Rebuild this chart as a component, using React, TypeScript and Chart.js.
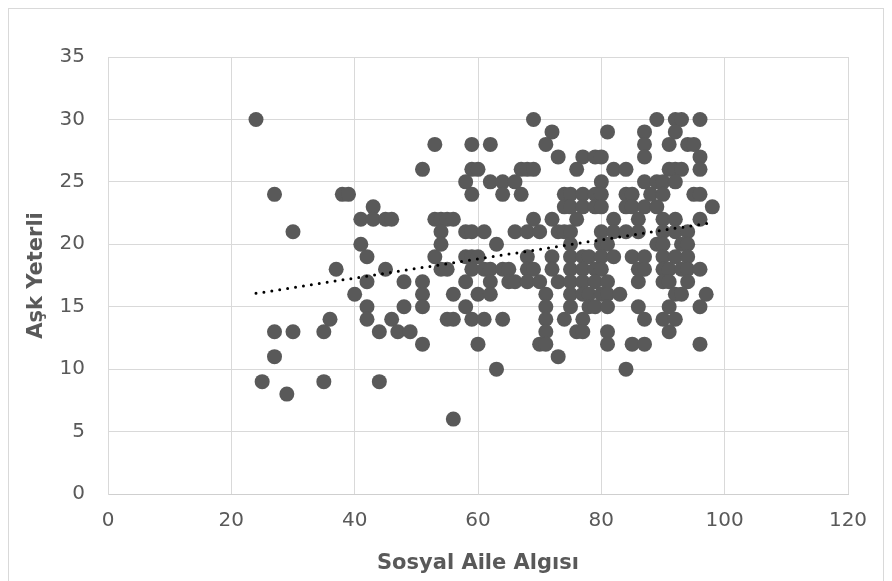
import { useEffect, useRef } from "react";
import { Chart, registerables } from "chart.js";

Chart.register(...registerables);

// x = Sosyal Aile Algısı, y = Aşk Yeterli (grouped by y level)
const sosyalAile: number[] = [
  24, 69, 89, 92, 93, 96,
  72, 81, 87, 92,
  53, 59, 62, 71, 87, 91, 94, 95,
  73, 77, 79, 80, 87, 96,
  51, 59, 60, 67, 68, 69, 76, 82, 84, 91, 92, 93, 96,
  58, 62, 64, 66, 80, 87, 89, 90, 92,
  27, 38, 39, 59, 64, 67, 74, 75, 77, 79, 80, 84, 85, 88, 90, 95, 96,
  43, 74, 75, 77, 79, 80, 84, 85, 87, 89, 98,
  41, 43, 45, 46, 53, 54, 55, 56, 69, 72, 76, 82, 86, 90, 92, 96,
  30, 54, 58, 59, 61, 66, 68, 70, 73, 74, 75, 80, 82, 84, 86, 90, 92, 94,
  41, 54, 63, 75, 80, 81, 89, 90, 93, 94,
  42, 53, 58, 59, 60, 68, 72, 75, 77, 78, 80, 82, 85, 87, 90, 92, 94,
  37, 45, 54, 55, 59, 61, 62, 64, 65, 68, 69, 72, 75, 77, 79, 80, 86, 87, 90, 91, 93, 94, 96,
  42, 48, 51, 58, 62, 65, 66, 68, 70, 73, 75, 77, 79, 81, 86, 90, 91, 94,
  40, 51, 56, 60, 62, 71, 75, 77, 78, 80, 81, 83, 92, 93, 97,
  42, 48, 51, 58, 71, 75, 78, 79, 81, 86, 91, 96,
  36, 42, 46, 55, 56, 59, 61, 64, 71, 74, 77, 87, 90, 92,
  27, 30, 35, 44, 47, 49, 71, 76, 77, 81, 91,
  51, 60, 70, 71, 81, 85, 87, 96,
  27, 73,
  63, 84,
  25, 35, 44,
  29,
  56,
];

const askYeterli: number[] = [
  30, 30, 30, 30, 30, 30,
  29, 29, 29, 29,
  28, 28, 28, 28, 28, 28, 28, 28,
  27, 27, 27, 27, 27, 27,
  26, 26, 26, 26, 26, 26, 26, 26, 26, 26, 26, 26, 26,
  25, 25, 25, 25, 25, 25, 25, 25, 25,
  24, 24, 24, 24, 24, 24, 24, 24, 24, 24, 24, 24, 24, 24, 24, 24, 24,
  23, 23, 23, 23, 23, 23, 23, 23, 23, 23, 23,
  22, 22, 22, 22, 22, 22, 22, 22, 22, 22, 22, 22, 22, 22, 22, 22,
  21, 21, 21, 21, 21, 21, 21, 21, 21, 21, 21, 21, 21, 21, 21, 21, 21, 21,
  20, 20, 20, 20, 20, 20, 20, 20, 20, 20,
  19, 19, 19, 19, 19, 19, 19, 19, 19, 19, 19, 19, 19, 19, 19, 19, 19,
  18, 18, 18, 18, 18, 18, 18, 18, 18, 18, 18, 18, 18, 18, 18, 18, 18, 18, 18, 18, 18, 18, 18,
  17, 17, 17, 17, 17, 17, 17, 17, 17, 17, 17, 17, 17, 17, 17, 17, 17, 17,
  16, 16, 16, 16, 16, 16, 16, 16, 16, 16, 16, 16, 16, 16, 16,
  15, 15, 15, 15, 15, 15, 15, 15, 15, 15, 15, 15,
  14, 14, 14, 14, 14, 14, 14, 14, 14, 14, 14, 14, 14, 14,
  13, 13, 13, 13, 13, 13, 13, 13, 13, 13, 13,
  12, 12, 12, 12, 12, 12, 12, 12,
  11, 11,
  10, 10,
  9, 9, 9,
  8,
  6,
];

// Linear trendline end points (dotted)
const trendX: number[] = [24, 97.5];
const trendY: number[] = [16.07, 21.7];

const X_MIN = 0, X_MAX = 120, X_STEP = 20;
const Y_MIN = 0, Y_MAX = 35, Y_STEP = 5;

const xTitle = "Sosyal Aile Algısı";
const yTitle = "Aşk Yeterli";

const TEXT = "#595959";
const GRID = "#d9d9d9";

export default function App() {
  const ref = useRef<HTMLCanvasElement>(null);

  useEffect(() => {
    if (!ref.current) return;
    const points = sosyalAile.map((x, i) => ({ x, y: askYeterli[i] }));
    const trend = trendX.map((x, i) => ({ x, y: trendY[i] }));
    const tickFont = { family: "'DejaVu Sans', sans-serif", size: 20 };
    const titleFont = { family: "'DejaVu Sans', sans-serif", size: 21, weight: "bold" as const };

    const chart = new Chart(ref.current, {
      type: "scatter",
      data: {
        datasets: [
          {
            type: "line",
            data: trend,
            borderColor: "#000000",
            borderWidth: 3,
            borderDash: [0, 8],
            borderCapStyle: "round",
            pointRadius: 0,
            pointHoverRadius: 0,
            fill: false,
            showLine: true,
          } as any,
          {
            data: points,
            backgroundColor: "#595959",
            borderWidth: 0,
            pointRadius: 7.5,
            pointHoverRadius: 7.5,
          },
        ],
      },
      options: {
        animation: false,
        responsive: false,
        devicePixelRatio: 1,
        layout: { padding: { top: 48, right: 35, left: 0, bottom: 0 } },
        plugins: {
          legend: { display: false },
          tooltip: { enabled: false },
        },
        scales: {
          x: {
            type: "linear",
            min: X_MIN,
            max: X_MAX,
            ticks: { stepSize: X_STEP, color: TEXT, font: tickFont, padding: 15 },
            grid: { color: GRID, drawTicks: false, lineWidth: 1 },
            border: { display: true, color: "#cfcfcf" },
            title: {
              display: true,
              text: xTitle,
              color: TEXT,
              font: titleFont,
              padding: { top: 0, bottom: 5 },
            },
            afterFit: (s: any) => {
              s.height = 87;
            },
          },
          y: {
            type: "linear",
            min: Y_MIN,
            max: Y_MAX,
            ticks: { stepSize: Y_STEP, color: TEXT, font: tickFont, padding: 23 },
            grid: { color: GRID, drawTicks: false, lineWidth: 1 },
            border: { display: true, color: GRID },
            title: {
              display: true,
              text: yTitle,
              color: TEXT,
              font: titleFont,
              padding: { top: 15, bottom: 0 },
            },
            afterFit: (s: any) => {
              s.width = 99;
            },
          },
        },
      },
    });
    return () => chart.destroy();
  }, []);

  return (
    <div style={{ width: 874, height: 572, border: "1px solid #d9d9d9", background: "#fff" }}>
      <canvas ref={ref} width={874} height={572} style={{ display: "block" }} />
    </div>
  );
}
